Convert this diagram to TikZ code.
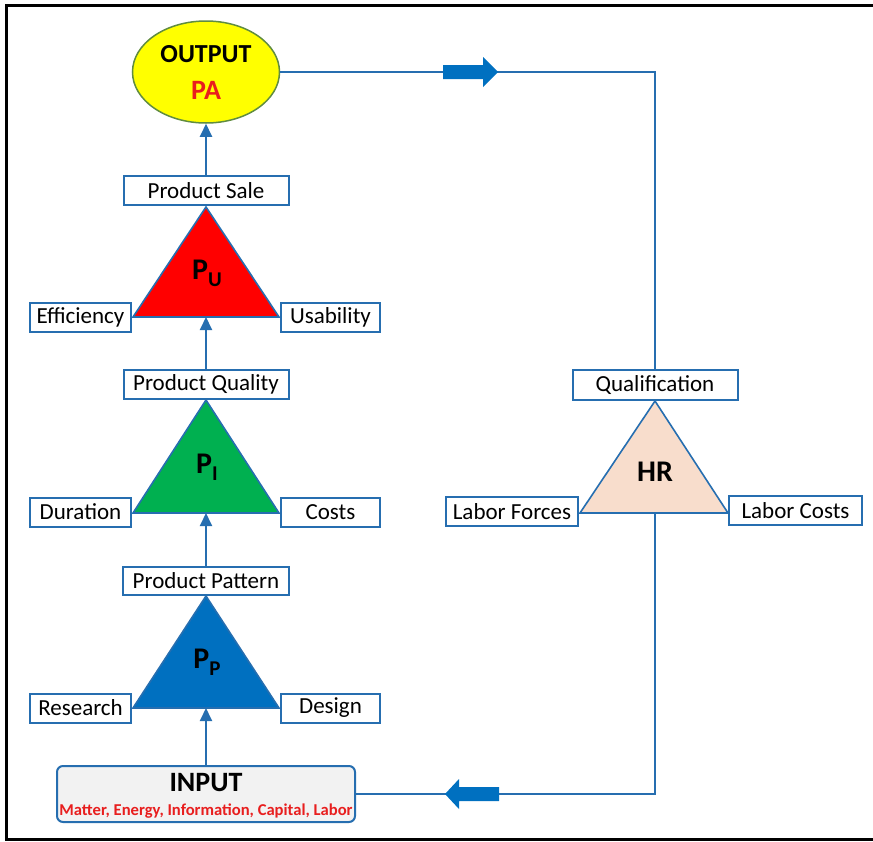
\documentclass[tikz,border=0pt]{standalone}
\usepackage{fontspec}
\setmainfont{Carlito}
\usetikzlibrary{shapes.geometric,arrows.meta}
\definecolor{boxblue}{RGB}{38,110,176}
\definecolor{arrowblue}{RGB}{0,112,192}
\definecolor{triRed}{RGB}{255,0,0}
\definecolor{triGreen}{RGB}{0,176,80}
\definecolor{triBlue}{RGB}{0,112,192}
\definecolor{triPeach}{RGB}{248,221,204}
\definecolor{outYellow}{RGB}{255,255,0}
\definecolor{outRim}{RGB}{96,140,64}
\definecolor{txtRed}{RGB}{232,30,30}
\definecolor{inGray}{RGB}{242,242,242}
\newcommand{\triname}[2]{{\fontsize{30}{30}\selectfont\bfseries #1}{\fontsize{21}{21}\selectfont\bfseries\raisebox{-7pt}{#2}}}
\begin{document}
\begin{tikzpicture}[x=1pt, y=-1pt, >={Triangle[length=13pt,width=12pt]},
    box/.style={draw=boxblue, line width=2pt, fill=white, inner sep=0pt, minimum height=29pt, font=\fontsize{23}{26}\selectfont},
    link/.style={draw=boxblue, line width=2pt},
    tri/.style={draw=boxblue, line width=1.6pt, line join=miter}]
    \useasboundingbox (0,0) rectangle (873,841);
    % frame
    \draw[line width=3pt] (873,5.5) -- (6.5,5.5) -- (6.5,839.5) -- (873,839.5);
    % triangles
    \draw[tri, fill=triRed] (206,207) -- (133,317) -- (279,317) -- cycle;
    \draw[tri, fill=triGreen] (206,400) -- (133,513) -- (279,513) -- cycle;
    \draw[tri, fill=triBlue] (206,596) -- (133,708) -- (279,708) -- cycle;
    \draw[tri, fill=triPeach] (655,401) -- (580,513) -- (728,513) -- cycle;
    \coordinate (ubase) at (206,317);
    \coordinate (ibase) at (206,513);
    \coordinate (pbase) at (206,708);
    \coordinate (hrbase) at (655,513);
    \node (pu) at (207,273) {\triname{P}{U}};
    \node (pi) at (207,467) {\triname{P}{I}};
    \node (pp) at (207,662) {\triname{P}{P}};
    \node[font=\fontsize{30}{30}\selectfont\bfseries] (hr) at (655,472) {HR};
    % output and input
    \node[ellipse, draw=outRim, line width=1.5pt, fill=outYellow, inner sep=0pt, minimum width=147pt, minimum height=102pt, align=center, font=\fontsize{26}{37}\selectfont\bfseries] (output) at (206,72) {OUTPUT\\\textcolor{txtRed}{\fontsize{28}{37}\selectfont PA}};
    \node[draw=boxblue, line width=2pt, fill=inGray, rounded corners=6pt, inner sep=0pt, minimum width=298pt, minimum height=56pt, align=center, font=\fontsize{16.6}{24}\selectfont] (input) at (206,794) {{\fontsize{28}{28}\selectfont\bfseries\rule{0pt}{22pt}INPUT}\\\textcolor{txtRed}{\bfseries Matter, Energy, Information, Capital, Labor}};
    % boxes
    \node[box, minimum width=165pt] (sale) at (206,190.5) {Product Sale};
    \node[box, minimum width=165pt] (quality) at (206,384.5) {Product Quality};
    \node[box, minimum width=166pt, minimum height=28pt] (pattern) at (206,581) {Product Pattern};
    \node[box, minimum width=165pt, minimum height=30pt] (qual) at (655,385) {Qualification};
    \node[box, minimum width=101pt] (eff) at (80.5,317.5) {Efficiency};
    \node[box, minimum width=99pt] (usab) at (330.5,317.5) {Usability};
    \node[box, minimum width=101pt] (dur) at (80.5,512) {Duration};
    \node[box, minimum width=99pt] (costs) at (330.5,512) {Costs};
    \node[box, minimum width=101pt] (res) at (80.5,708) {Research};
    \node[box, minimum width=99pt] (des) at (330.5,708) {Design};
    \node[box, minimum width=132pt] (lforce) at (512,511.5) {Labor Forces};
    \node[box, minimum width=133pt] (lcost) at (795.5,510.5) {Labor Costs};
    % connectors
    \draw[link,->] (input.north) -- (pbase);
    \draw[link,->] (pattern.north) -- (ibase);
    \draw[link,->] (quality.north) -- (ubase);
    \draw[link,->] (sale.north) -- (output.south);
    \draw[link] (output.east) -| (qual.north);
    \draw[link] (hrbase) |- (input.east);
    % block arrows
    \fill[arrowblue] (443,65) -- (483,65) -- (483,57) -- (498,72) -- (483,87) -- (483,79) -- (443,79) -- cycle;
    \fill[arrowblue] (499,787) -- (459,787) -- (459,779) -- (445,794) -- (459,809) -- (459,801) -- (499,801) -- cycle;
\end{tikzpicture}
\end{document}
